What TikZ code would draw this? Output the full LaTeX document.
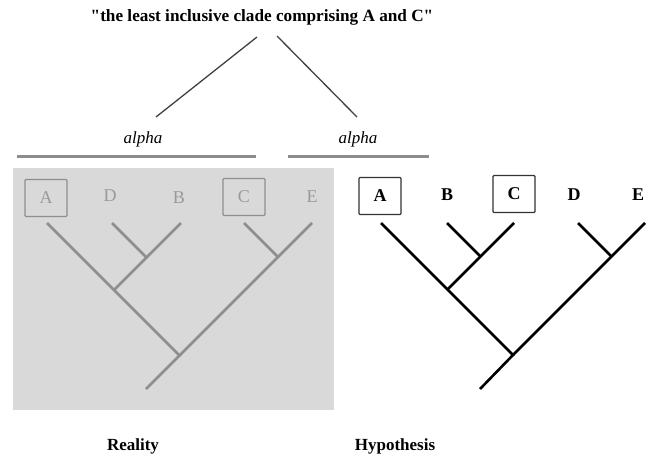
\documentclass[tikz,border=0pt]{standalone}
\usepackage{fontspec}
\setmainfont{Liberation Serif}
\definecolor{panel}{HTML}{D9D9D9}
\definecolor{ghost}{HTML}{8E8E8E}
\definecolor{ghosttext}{HTML}{9A9A9A}
\begin{document}
\begin{tikzpicture}[x=1pt,y=-1pt,
    taxon/.style={font=\fontsize{18}{20}\selectfont},
    chosen/.style={draw, rounded corners=1pt, line width=1.4pt, minimum width=42pt, minimum height=37pt},
    branch/.style={line width=2.6pt},
    bar/.style={line width=3pt, draw=gray!90}]
  \useasboundingbox (0,0) rectangle (648,458);
  % titel
  \node[font=\fontsize{17.2}{20}\bfseries\selectfont] (title) at (262,17) {\textquotedbl the least inclusive clade comprising A and C\textquotedbl};
  \coordinate (tl) at (257,37);
  \coordinate (tr) at (277,36);
  \coordinate (el) at (156,117);
  \coordinate (er) at (357,117);
  \draw[line width=1.3pt, draw=black!75] (tl) -- (el);
  \draw[line width=1.3pt, draw=black!75] (tr) -- (er);
  \node[font=\fontsize{17}{20}\itshape\selectfont] (alphaL) at (143,139) {alpha};
  \node[font=\fontsize{17}{20}\itshape\selectfont] (alphaR) at (358,139) {alpha};
  \coordinate (bl1) at (17,156);
  \coordinate (bl2) at (256,156);
  \coordinate (br1) at (288,156);
  \coordinate (br2) at (429,156);
  \draw[bar] (bl1) -- (bl2);
  \draw[bar] (br1) -- (br2);

  % reality
  \fill[panel] (13,168) rectangle (334,410);
  \node[taxon, chosen, draw=ghost, text=ghosttext] (rA) at (46,198) {A};
  \node[taxon, text=ghosttext] (rD) at (110,196) {D};
  \node[taxon, text=ghosttext] (rB) at (179,198) {B};
  \node[taxon, chosen, draw=ghost, text=ghosttext] (rC) at (244,197) {C};
  \node[taxon, text=ghosttext] (rE) at (312,197) {E};
  \coordinate (ra) at (47,223);
  \coordinate (rd) at (112,223);
  \coordinate (rb) at (181,223);
  \coordinate (rc) at (244,223);
  \coordinate (re) at (312,223);
  \coordinate (rdb) at (146.5,257.5);
  \coordinate (radb) at (114,290);
  \coordinate (rce) at (278,257);
  \coordinate (rroot) at (179.5,355.5);
  \coordinate (rbase) at (146,389);
  \draw[branch, ghost] (rbase) -- (rroot) -- (ra);
  \draw[branch, ghost] (rroot) -- (re);
  \draw[branch, ghost] (radb) -- (rb);
  \draw[branch, ghost] (rdb) -- (rd);
  \draw[branch, ghost] (rce) -- (rc);
  \node[font=\fontsize{17}{20}\bfseries\selectfont] (reality) at (133,446) {Reality};

  % hypothesis
  \node[taxon, chosen, draw=black!80, font=\fontsize{18}{20}\bfseries\selectfont] (hA) at (380,196) {A};
  \node[taxon, font=\fontsize{18}{20}\bfseries\selectfont] (hB) at (447,195) {B};
  \node[taxon, chosen, draw=black!80, font=\fontsize{18}{20}\bfseries\selectfont] (hC) at (514,194) {C};
  \node[taxon, font=\fontsize{18}{20}\bfseries\selectfont] (hD) at (574,195) {D};
  \node[taxon, font=\fontsize{18}{20}\bfseries\selectfont] (hE) at (638,195) {E};
  \coordinate (ha) at (381,223);
  \coordinate (hb) at (447,223);
  \coordinate (hc) at (514,223);
  \coordinate (hd) at (578,223);
  \coordinate (he) at (645,223);
  \coordinate (hbc) at (480.5,256.5);
  \coordinate (habc) at (447.5,289.5);
  \coordinate (hde) at (611.5,256.5);
  \coordinate (hroot) at (513,355);
  \coordinate (hbase) at (480,389);
  \draw[branch] (hbase) -- (hroot) -- (ha);
  \draw[branch] (hroot) -- (he);
  \draw[branch] (habc) -- (hc);
  \draw[branch] (hbc) -- (hb);
  \draw[branch] (hde) -- (hd);
  \node[font=\fontsize{17}{20}\bfseries\selectfont] (hypo) at (395,446) {Hypothesis};
\end{tikzpicture}
\end{document}
